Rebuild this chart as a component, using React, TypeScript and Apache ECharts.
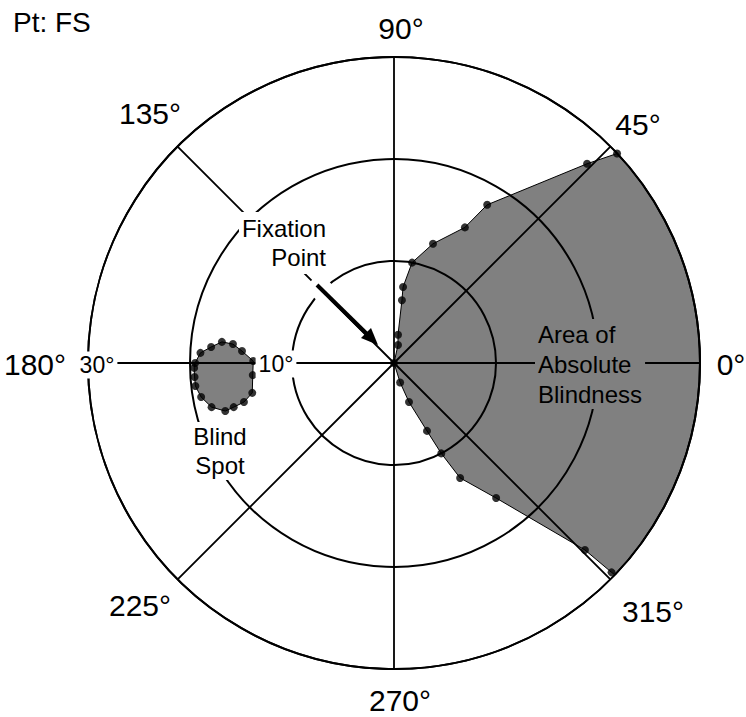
import React, { useEffect, useRef } from 'react';
import * as echarts from 'echarts';

// ---- data ----
const angleTicks = [0, 45, 90, 135, 180, 225, 270, 315];
const angleTickLabels = ['0°', '45°', '90°', '135°', '180°', '225°', '270°', '315°'];
const ringTicks = [10, 20, 30];
const ringLabels = ['10°', '30°'];

// Area of absolute blindness: upper border, from fixation point outward [deg eccentricity, deg meridian]
const upperEdgeR = [0, 1.8, 2.8, 6.2, 7.5, 10.0, 12.3, 15.0, 18.0, 27.2, 30.0];
const upperEdgeA = [0, 77.5, 81.9, 82.8, 83.2, 79.8, 71.9, 62.4, 59.5, 45.9, 43.2];
// lower border, from periphery back to fixation
const lowerEdgeR = [29.6, 26.2, 16.6, 13.0, 10.0, 7.4, 4.1, 2.0];
const lowerEdgeA = [316.1, 315.6, 307.1, 299.9, 297.6, 295.9, 291.0, 287.5];
const fieldEdge = 30;

// Blind spot border
const blindSpotR = [19.5, 19.0, 18.0, 17.0, 15.9, 14.95, 13.8, 13.9, 14.2, 15.2, 16.3, 17.2, 18.4, 19.2, 19.6, 19.6, 19.6];
const blindSpotA = [180.0, 177.0, 175.0, 173.0, 173.3, 175.5, 179.2, 184.9, 191.9, 194.6, 195.4, 195.9, 193.6, 190.0, 186.6, 184.0, 181.4];

// ---- layout ----
const CX = 394;
const CY = 363;
const RAD = 306;
const FONT = "'Liberation Sans', Arial, Helvetica, sans-serif";
const labelCenters: [number, number][] = [
  [731, 364], [638, 124], [401, 28], [150, 113], [35, 364], [140, 605], [400, 700], [653, 611],
];
const GRAY = '#808080';

export default function App() {
  const ref = useRef<HTMLDivElement>(null);
  useEffect(() => {
    if (!ref.current) return;
    const chart = echarts.init(ref.current, undefined, { renderer: 'svg' });

    const norm = (a: number) => ((a % 360) + 360) % 360;

    const regionRender = (params: any, api: any) => {
      const pts: number[][] = [];
      for (let i = 0; i < upperEdgeR.length; i++) pts.push(api.coord([upperEdgeR[i], upperEdgeA[i]]));
      const a0 = upperEdgeA[upperEdgeA.length - 1];
      const a1 = lowerEdgeA[0] - 360;
      for (let a = a0 - 1; a > a1; a -= 1) pts.push(api.coord([fieldEdge, norm(a)]));
      for (let i = 0; i < lowerEdgeR.length; i++) pts.push(api.coord([lowerEdgeR[i], lowerEdgeA[i]]));
      return {
        type: 'polygon',
        shape: { points: pts },
        style: { fill: GRAY, stroke: '#000', lineWidth: 1 },
      };
    };
    const blindRender = (params: any, api: any) => {
      const pts: number[][] = [];
      for (let i = 0; i < blindSpotR.length; i++) pts.push(api.coord([blindSpotR[i], blindSpotA[i]]));
      return {
        type: 'polygon',
        shape: { points: pts },
        style: { fill: GRAY, stroke: '#000', lineWidth: 1 },
      };
    };

    const dots: number[][] = [];
    upperEdgeR.forEach((r, i) => dots.push([r, upperEdgeA[i]]));
    lowerEdgeR.forEach((r, i) => dots.push([r, lowerEdgeA[i]]));
    blindSpotR.forEach((r, i) => dots.push([r, blindSpotA[i]]));

    const graphics: any[] = [];
    graphics.push({
      type: 'text', z: 100, x: 13, y: 22,
      style: { text: 'Pt: FS', font: `28px ${FONT}`, fill: '#000', align: 'left', verticalAlign: 'middle' },
    });
    angleTickLabels.forEach((t, i) => {
      graphics.push({
        type: 'text', z: 100, x: labelCenters[i][0], y: labelCenters[i][1],
        style: { text: t, font: `30px ${FONT}`, fill: '#000', align: 'center', verticalAlign: 'middle' },
      });
    });
    // ring labels
    graphics.push({
      type: 'text', z: 100, x: 276, y: 364,
      style: { text: ringLabels[0], font: `23px ${FONT}`, fill: '#000', align: 'center', verticalAlign: 'middle', backgroundColor: '#fff', padding: [2, 3] },
    });
    graphics.push({
      type: 'text', z: 100, x: 97, y: 365,
      style: { text: ringLabels[1], font: `23px ${FONT}`, fill: '#000', align: 'center', verticalAlign: 'middle', backgroundColor: '#fff', padding: [2, 3] },
    });
    // arrow halo
    graphics.push({
      type: 'line', z: 99, shape: { x1: 312, y1: 280, x2: 330, y2: 298 },
      style: { stroke: '#fff', lineWidth: 22 },
    });
    graphics.push({
      type: 'line', z: 101, shape: { x1: 317, y1: 285, x2: 369, y2: 336 },
      style: { stroke: '#000', lineWidth: 4 },
    });
    graphics.push({
      type: 'polygon', z: 101,
      shape: { points: [[378, 345], [361, 338], [371, 328]] },
      style: { fill: '#000' },
    });
    graphics.push({
      type: 'text', z: 100, x: 329, y: 243,
      style: {
        text: 'Fixation\nPoint', font: `24px ${FONT}`, fill: '#000', align: 'right', verticalAlign: 'middle',
        lineHeight: 29, backgroundColor: '#fff', padding: [2, 3],
      },
    });
    graphics.push({
      type: 'text', z: 100, x: 535, y: 364,
      style: {
        text: 'Area of\nAbsolute\nBlindness', font: `24px ${FONT}`, fill: '#000', align: 'left', verticalAlign: 'middle',
        lineHeight: 30, backgroundColor: GRAY, padding: [0, 3],
      },
    });
    graphics.push({
      type: 'text', z: 100, x: 220, y: 451,
      style: {
        text: 'Blind\nSpot', font: `24px ${FONT}`, fill: '#000', align: 'center', verticalAlign: 'middle',
        lineHeight: 29, backgroundColor: '#fff', padding: [0, 2],
      },
    });

    chart.setOption({
      animation: false,
      backgroundColor: '#fff',
      polar: { center: [CX, CY], radius: RAD },
      angleAxis: {
        type: 'value', min: 0, max: 360, interval: 45, startAngle: 0, clockwise: false, z: 3,
        axisLine: { show: true, lineStyle: { color: '#000', width: 2 } },
        axisTick: { show: false },
        axisLabel: { show: false },
        splitLine: { show: true, lineStyle: { color: '#000', width: 1.8 } },
      },
      radiusAxis: {
        type: 'value', min: 0, max: ringTicks[ringTicks.length - 1], interval: ringTicks[0], z: 3,
        axisLine: { show: false },
        axisTick: { show: false },
        axisLabel: { show: false },
        splitLine: { show: true, lineStyle: { color: '#000', width: 2 } },
      },
      series: [
        { type: 'custom', coordinateSystem: 'polar', z: 1, data: [[0, 0]], renderItem: regionRender, silent: true },
        { type: 'custom', coordinateSystem: 'polar', z: 1, data: [[0, 0]], renderItem: blindRender, silent: true },
        {
          type: 'scatter', coordinateSystem: 'polar', z: 5, data: dots, symbol: 'circle', symbolSize: 8,
          itemStyle: { color: '#000' }, silent: true,
        },
      ],
      graphic: graphics,
    });
    return () => chart.dispose();
  }, []);
  return <div ref={ref} style={{ position: 'absolute', left: 0, top: 0, width: 746, height: 717 }} />;
}
